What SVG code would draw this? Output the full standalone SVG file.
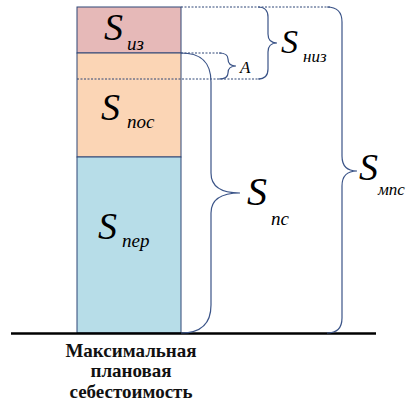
<svg xmlns="http://www.w3.org/2000/svg" width="410" height="405" viewBox="0 0 410 405">
<style>
.seg{stroke:#2e4677;stroke-width:1}
.dash{fill:none;stroke:#2e4677;stroke-width:1;stroke-dasharray:2 1.5}
.brace{fill:none;stroke:#3b5488;stroke-width:1.2}
.s{font-family:'Liberation Serif','Times New Roman',serif;font-style:italic;fill:#000}
.cap{font-family:'Liberation Serif','Times New Roman',serif;font-weight:bold;font-size:19px;text-anchor:middle;fill:#111}
</style>
<rect width="410" height="405" fill="#fff"/>
<g id="block-iz">
<rect class="seg" x="77" y="7" width="104" height="46" fill="#e6b9b8"/>
<text class="s" x="104" y="40" font-size="38">S</text>
<text class="s" x="127" y="50" font-size="19">из</text>
</g>
<g id="block-pos">
<rect class="seg" x="77" y="53" width="104" height="104" fill="#fbd5b5"/>
<text class="s" x="101" y="120" font-size="38">S</text>
<text class="s" x="127" y="128" font-size="19">пос</text>
</g>
<g id="block-per">
<rect class="seg" x="77" y="157" width="104" height="176" fill="#b7dde8"/>
<text class="s" x="98" y="239" font-size="38">S</text>
<text class="s" x="122" y="247" font-size="19">пер</text>
</g>
<g id="baseline">
<line x1="11" y1="333.5" x2="376" y2="333.5" stroke="#000" stroke-width="2.5"/>
</g>
<g id="connectors">
<path class="dash" d="M181,7 H330"/>
<path class="dash" d="M181,53 H222"/>
<path class="dash" d="M77,79 H260"/>
<path id="brace-A" class="brace" d="M219,53 Q228,53 228,59 Q228,66 236,66 Q228,66 228,73 Q228,79 219,79"/>
<path id="brace-niz" class="brace" d="M258,7 Q268,7 268,17 L268,34 Q268,43 277,43 Q268,43 268,52 L268,69 Q268,79 258,79"/>
<path id="brace-ps" class="brace" d="M181,53 C199,53 211,60 211,82 L211,173 C211,186 220,193 240,193 C220,193 211,200 211,213 L211,305 C211,325 199,333 181,333"/>
<path id="brace-mps" class="brace" d="M327,7 Q342,7 342,22 L342,156 Q342,171 357,171 Q342,171 342,186 L342,318 Q342,333 327,333"/>
</g>
<g id="label-A"><text class="s" x="240" y="73" font-size="17">A</text></g>
<g id="label-niz">
<text class="s" x="281" y="53" font-size="34">S</text>
<text class="s" x="303" y="62" font-size="17">низ</text>
</g>
<g id="label-ps">
<text class="s" x="247" y="205" font-size="40">S</text>
<text class="s" x="271" y="225" font-size="19">пс</text>
</g>
<g id="label-mps">
<text class="s" x="359" y="180" font-size="38">S</text>
<text class="s" x="378" y="195" font-size="17">мпс</text>
</g>
<g id="caption">
<text class="cap" x="131" y="357">Максимальная</text>
<text class="cap" x="131" y="377">плановая</text>
<text class="cap" x="131" y="398">себестоимость</text>
</g>
</svg>
